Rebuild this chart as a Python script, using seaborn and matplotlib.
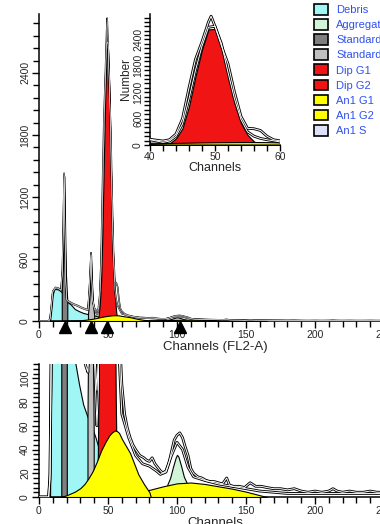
import numpy as np
import pandas as pd
import seaborn as sns
import matplotlib
matplotlib.use("Agg")
import matplotlib.pyplot as plt
import matplotlib.transforms as mtransforms
from matplotlib.patches import Patch
from matplotlib.ticker import MultipleLocator

# histogram (raw data)
data_ch = [0, 7, 8, 9, 10, 12, 14, 16, 17, 17.6, 18.2, 18.8, 19.4, 20, 21, 23, 25, 28, 31, 34,
           35.5, 36.5, 37.2, 37.7, 38.3, 39, 40, 41, 42, 43, 44, 45, 46, 47, 48, 49, 49.4, 50,
           51, 52, 53, 54, 55, 56, 57, 58, 59, 60, 62, 64, 66, 68, 70, 73, 76, 78, 80, 82, 84,
           86, 88, 90, 92, 94, 96, 98, 100, 102, 104, 106, 108, 110, 112, 115, 118, 121, 124,
           127, 130, 133, 136, 138, 141, 145, 149, 153, 157, 161, 165, 170, 175, 180, 185, 190,
           195, 200, 205, 210, 213, 216, 220, 225, 230, 235, 240, 245, 250, 256]
data_n = [0, 0, 20, 150, 290, 325, 318, 300, 500, 900, 1430, 900, 400, 210, 195, 180, 165, 150,
          130, 115, 110, 300, 500, 660, 400, 200, 130, 110, 90, 120, 250, 600, 1300, 1950, 2350,
          2800, 2930, 2700, 2250, 1850, 1200, 650, 380, 370, 330, 200, 120, 95, 70, 58, 50, 44,
          40, 35, 33, 31, 30, 33, 28, 25, 22, 20, 21, 28, 38, 48, 52, 54, 50, 42, 35, 24, 20, 17,
          16, 14, 13, 13, 12, 11, 16, 10, 9, 9, 8, 12, 9, 9, 8, 7, 7, 6, 7, 5, 4, 5, 4, 5, 7, 5,
          4, 5, 4, 4, 5, 4, 4, 4]

# model fit line
fit_ch = [0, 7, 8, 9, 10, 12, 14, 16, 17, 17.6, 18.2, 18.8, 19.4, 20, 22, 25, 28, 31, 34, 35.5,
          36.5, 37.2, 37.7, 38.3, 39, 40, 42, 43, 44, 45, 46, 47, 48, 49, 50, 51, 52, 53, 54, 55,
          56, 57, 58, 60, 65, 70, 75, 80, 85, 88, 92, 96, 100, 104, 108, 112, 120, 130, 140, 150,
          160, 170, 180, 256]
fit_n = [0, 0, 15, 130, 280, 318, 312, 295, 480, 880, 1400, 880, 380, 200, 180, 160, 145, 125,
         110, 105, 290, 480, 640, 380, 190, 120, 60, 90, 200, 480, 1050, 1700, 2250, 2680, 2700,
         2300, 1650, 1050, 580, 300, 200, 150, 120, 70, 50, 35, 28, 26, 22, 19, 22, 35, 46, 40,
         25, 17, 14, 11, 9, 7, 5, 4, 3, 3]

# model components
debris_ch = [8, 9, 10, 11, 12, 14, 16, 18, 20, 23, 26, 29, 32, 35, 38, 41, 44, 47, 50, 55, 60]
debris_n = [0, 120, 260, 305, 310, 305, 285, 250, 190, 160, 115, 95, 78, 68, 60, 50, 38, 25, 17, 7, 0]

std1_ch = [16.5, 17.3, 17.9, 18.4, 18.9, 19.5, 20.5]
std1_n = [285, 500, 1000, 1400, 900, 450, 190]
std2_ch = [35.5, 36.5, 37.2, 37.7, 38.3, 39, 40]
std2_n = [68, 200, 420, 640, 400, 180, 55]

dipg1_ch = [42, 43, 44, 45, 46, 47, 48, 49, 50, 51, 52, 53, 54, 55, 56, 57]
dipg1_n = [0, 35, 150, 380, 880, 1560, 2170, 2630, 2640, 2250, 1560, 950, 500, 230, 80, 0]

an1g1_ch = [16, 20, 26, 30, 33, 36, 39, 42, 45, 48, 51, 53, 55, 56.5, 58, 60, 62, 64, 66, 68, 70,
            72, 74, 76, 78, 80, 81]
an1g1_n = [0, 1.5, 4.5, 7.5, 11, 16, 22, 30, 39, 46, 52, 54.5, 56, 55.5, 54, 49, 45, 41, 37, 31,
           25, 19, 15, 11, 7.5, 4, 0]

an1g2_ch = [40, 50, 60, 70, 80, 90, 100, 110, 120, 130, 140, 150, 160, 165]
an1g2_n = [0, 0.8, 2, 4, 6, 9, 11.5, 12.2, 11, 9, 7, 4.5, 1.5, 0]

agg_ch = [93, 95, 97, 99, 100, 101, 103, 105, 107]
agg_n = [10.5, 16, 25, 33, 35.5, 34, 26, 17, 12]

marker_ch = [18.5, 37.5, 49.5, 102]

legend_labels = ["Debris", "Aggregates", "Standard", "Standard", "Dip G1", "Dip G2",
                 "An1 G1", "An1 G2", "An1 S"]
legend_colors = ["#a0f5f5", "#d2f5d8", "#7f7f7f", "#c0c0c0", "#f01414", "#f01414",
                 "#ffff00", "#ffff00", "#dde0f8"]

sns.set_style("ticks")
plt.rcParams['font.family'] = ['Liberation Sans', 'DejaVu Sans']

fig = plt.figure(figsize=(3.8, 5.24), dpi=100)
ax_main = fig.add_axes([39 / 380, 203 / 524, 256 * 1.38 / 380, 307 / 524])
ax_low = fig.add_axes([39 / 380, 27 / 524, 256 * 1.38 / 380, 133 / 524])
ax_in = fig.add_axes([150 / 380, 379 / 524, 130 / 380, 131 / 524])


def draw(ax, lw_out, lw_in):
    ek = dict(edgecolor="black", linewidth=0.8)
    ax.fill_between(debris_ch, 0, debris_n, facecolor=legend_colors[0], zorder=1, **ek)
    ax.fill_between(agg_ch, 0, agg_n, facecolor=legend_colors[1], zorder=1.5, **ek)
    ax.fill_between(std1_ch, 0, std1_n, facecolor=legend_colors[2], zorder=2, **ek)
    ax.fill_between(std2_ch, 0, std2_n, facecolor=legend_colors[3], zorder=2, **ek)
    ax.fill_between(dipg1_ch, 0, dipg1_n, facecolor=legend_colors[4], zorder=3, **ek)
    ax.fill_between(an1g2_ch, 0, an1g2_n, facecolor=legend_colors[7], zorder=4, **ek)
    ax.fill_between(an1g1_ch, 0, an1g1_n, facecolor=legend_colors[6], zorder=5, **ek)
    for xs, ys in [(fit_ch, fit_n), (data_ch, data_n)]:
        sns.lineplot(x=xs, y=ys, ax=ax, color="black", lw=lw_out, zorder=6,
                     estimator=None, sort=False)
        if lw_in > 0:
            sns.lineplot(x=xs, y=ys, ax=ax, color="white", lw=lw_in, zorder=6.5,
                         estimator=None, sort=False)


draw(ax_main, 1.1, 0.35)
draw(ax_low, 2.0, 0.7)
draw(ax_in, 2.0, 0.7)

for ax in (ax_main, ax_low, ax_in):
    ax.set_facecolor("white")
    sns.despine(ax=ax)
    for s in ("left", "bottom"):
        ax.spines[s].set_linewidth(1.1)
        ax.spines[s].set_color("black")
    ax.tick_params(which="both", direction="out", color="black", width=1.0,
                   labelsize=7.5, pad=1.5)
    ax.tick_params(which="major", length=5)
    ax.tick_params(which="minor", length=4)
    ax.tick_params(axis="y", labelrotation=90)

ax_main.set_xlim(0, 256)
ax_main.set_ylim(0, 2970)
ax_main.xaxis.set_major_locator(MultipleLocator(50))
ax_main.xaxis.set_minor_locator(MultipleLocator(10))
ax_main.yaxis.set_major_locator(MultipleLocator(600))
ax_main.yaxis.set_minor_locator(MultipleLocator(120))
ax_main.set_xlabel("Channels (FL2-A)", fontsize=9.5, labelpad=1)
ax_main.set_ylabel("")

ax_low.set_xlim(0, 256)
ax_low.set_ylim(0, 112)
ax_low.xaxis.set_major_locator(MultipleLocator(50))
ax_low.xaxis.set_minor_locator(MultipleLocator(10))
ax_low.yaxis.set_major_locator(MultipleLocator(20))
ax_low.yaxis.set_minor_locator(MultipleLocator(4))
ax_low.set_xlabel("Channels", fontsize=9.5, labelpad=1)
ax_low.set_ylabel("")

ax_in.set_xlim(40, 60)
ax_in.set_ylim(0, 2980)
ax_in.xaxis.set_major_locator(MultipleLocator(10))
ax_in.xaxis.set_minor_locator(MultipleLocator(2))
ax_in.yaxis.set_major_locator(MultipleLocator(600))
ax_in.yaxis.set_minor_locator(MultipleLocator(100))
ax_in.tick_params(which="both", length=4, pad=1)
ax_in.set_xlabel("Channels", fontsize=9, labelpad=0)
ax_in.set_ylabel("Number", fontsize=8.5, labelpad=1)

for ax in (ax_main, ax_low, ax_in):
    for lab in ax.get_yticklabels():
        lab.set_va("center")

# peak markers under the main axis
tri = ax_main.get_xaxis_transform() + mtransforms.ScaledTranslation(0, -4 / 72, fig.dpi_scale_trans)
ax_main.plot(marker_ch, [0] * len(marker_ch), ls="none", marker="^", ms=8, color="black",
             transform=tri, clip_on=False, zorder=10)

handles = [Patch(facecolor=c, edgecolor="black", linewidth=1.2) for c in legend_colors]
fig.legend(handles, legend_labels, loc="upper left", bbox_to_anchor=(314 / 380, 520 / 524),
           frameon=False, fontsize=8, labelcolor="#2f50f0", handlelength=1.3,
           handleheight=1.1, labelspacing=0.36, handletextpad=0.7, borderpad=0,
           borderaxespad=0)

fig.savefig("out.png", dpi=100)
